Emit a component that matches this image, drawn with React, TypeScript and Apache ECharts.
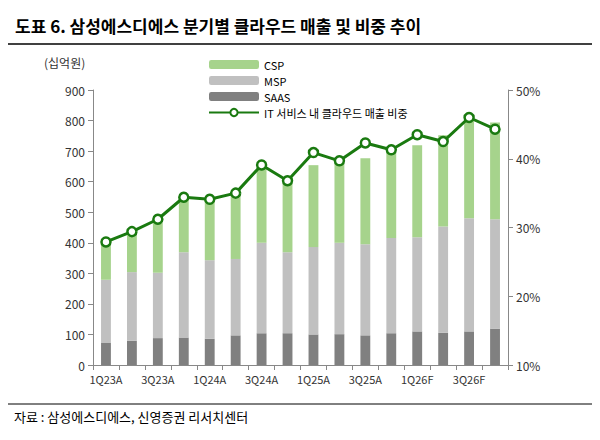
import React, { useEffect, useRef } from 'react';
import * as echarts from 'echarts';

const quarters = ['1Q23A', '2Q23A', '3Q23A', '4Q23A', '1Q24A', '2Q24A', '3Q24A', '4Q24A', '1Q25A', '2Q25A', '3Q25A', '4Q25A', '1Q26F', '2Q26F', '3Q26F', '4Q26F'];
const saas = [72, 79, 88, 90, 86, 97, 104, 104, 100, 101, 97, 104, 110, 106, 110, 119];
const msp = [207, 225, 214, 279, 257, 250, 296, 265, 286, 299, 298, 312, 308, 347, 370, 358];
const csp = [121, 131, 164, 176, 197, 209, 246, 224, 268, 260, 282, 278, 301, 299, 320, 317];
const cloudShare = [27.9, 29.4, 31.2, 34.4, 34.1, 35.0, 39.1, 36.8, 40.9, 39.7, 42.3, 41.3, 43.5, 42.5, 46.0, 44.3];

const App = () => {
  const chartRef = useRef(null);

  useEffect(() => {
    const myChart = echarts.init(chartRef.current, null, { renderer: 'svg' });
    const font = 'Noto Sans CJK KR';
    const option = {
      animation: false,
      textStyle: { fontFamily: font },
      title: {
        text: '도표 6. 삼성에스디에스 분기별 클라우드 매출 및 비중 추이',
        left: 2,
        top: 4,
        textStyle: { fontSize: 17, fontWeight: 'bold', color: '#000', fontFamily: font },
      },
      graphic: [
        { type: 'line', shape: { x1: 0, y1: 36, x2: 584, y2: 36 }, style: { stroke: '#000', lineWidth: 1.5 } },
        { type: 'line', shape: { x1: 0, y1: 396, x2: 584, y2: 396 }, style: { stroke: '#000', lineWidth: 1 } },
        { type: 'text', left: 36, top: 48, style: { text: '(십억원)', fontSize: 12, fill: '#333', fontFamily: font } },
        { type: 'text', left: 6, top: 402, style: { text: '자료 : 삼성에스디에스, 신영증권 리서치센터', fontSize: 13, fill: '#000', fontFamily: font } },
      ],
      legend: {
        orient: 'vertical',
        left: 195,
        top: 46,
        itemGap: 5,
        itemWidth: 50,
        itemHeight: 9,
        textStyle: { fontSize: 11, color: '#000', fontFamily: font, lineHeight: 11 },
        data: ['CSP', 'MSP', 'SAAS', 'IT 서비스 내 클라우드 매출 비중'],
      },
      grid: { left: 85, right: 84, top: 82, bottom: 67 },
      xAxis: {
        type: 'category',
        data: quarters,
        axisLine: { lineStyle: { color: '#888' } },
        axisTick: { show: true, interval: 0, lineStyle: { color: '#888' } },
        axisLabel: { interval: 1, color: '#333', fontSize: 11 },
      },
      yAxis: [
        {
          type: 'value', min: 0, max: 900, interval: 100,
          splitLine: { show: false },
          axisLine: { show: true, lineStyle: { color: '#888' } },
          axisTick: { show: true, lineStyle: { color: '#888' } },
          axisLabel: { color: '#333', fontSize: 12 },
        },
        {
          type: 'value', min: 10, max: 50, interval: 10,
          splitLine: { show: false },
          axisLine: { show: true, lineStyle: { color: '#888' } },
          axisTick: { show: true, lineStyle: { color: '#888' } },
          axisLabel: { color: '#333', fontSize: 12, formatter: '{value}%' },
        },
      ],
      series: [
        { name: 'SAAS', type: 'bar', stack: 'c', data: saas, barWidth: '38%', itemStyle: { color: '#808080' } },
        { name: 'MSP', type: 'bar', stack: 'c', data: msp, itemStyle: { color: '#c0c0c0' } },
        { name: 'CSP', type: 'bar', stack: 'c', data: csp, itemStyle: { color: '#a6d38c' } },
        {
          name: 'IT 서비스 내 클라우드 매출 비중', type: 'line', yAxisIndex: 1, data: cloudShare,
          symbol: 'circle', symbolSize: 9,
          lineStyle: { color: '#1a7a10', width: 3 },
          itemStyle: { color: '#fff', borderColor: '#1a7a10', borderWidth: 2.5 },
        },
      ],
    };
    myChart.setOption(option);
    return () => {
      myChart.dispose();
    };
  }, []);

  return <div ref={chartRef} style={{ width: '584px', height: '424px' }} />;
};

export default App;
